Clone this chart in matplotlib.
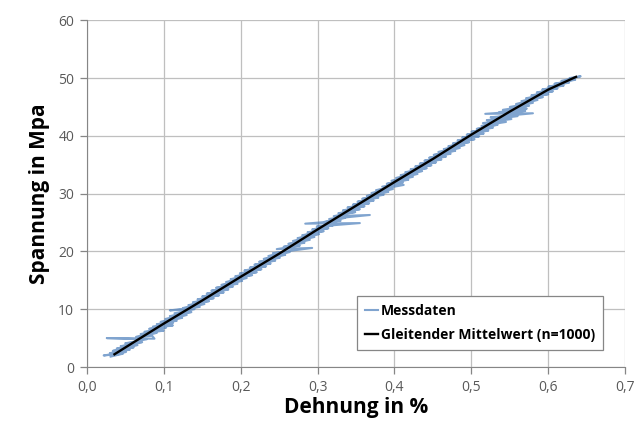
import matplotlib
matplotlib.use("Agg")
import matplotlib.pyplot as plt
from matplotlib.ticker import FixedLocator, FixedFormatter

msg_x = [0.031, 0.047, 0.022, 0.051, 0.030, 0.056, 0.034, 0.061, 0.039, 0.066,
         0.044, 0.072, 0.050, 0.078, 0.026, 0.088, 0.085, 0.064, 0.091, 0.070,
         0.100, 0.075, 0.103, 0.081, 0.112, 0.086, 0.112, 0.091, 0.117, 0.096,
         0.124, 0.102, 0.130, 0.108, 0.136, 0.114, 0.140, 0.108, 0.147, 0.125,
         0.153, 0.132, 0.159, 0.138, 0.165, 0.144, 0.172, 0.150, 0.178, 0.156,
         0.184, 0.162, 0.190, 0.168, 0.196, 0.175, 0.202, 0.181, 0.208, 0.187,
         0.215, 0.193, 0.221, 0.199, 0.227, 0.205, 0.233, 0.212, 0.239, 0.218,
         0.245, 0.224, 0.251, 0.230, 0.258, 0.236, 0.264, 0.242, 0.293, 0.247,
         0.277, 0.256, 0.283, 0.262, 0.290, 0.268, 0.296, 0.274, 0.302, 0.280,
         0.308, 0.287, 0.314, 0.293, 0.320, 0.299, 0.355, 0.284, 0.330, 0.309,
         0.336, 0.315, 0.368, 0.321, 0.349, 0.327, 0.355, 0.333, 0.361, 0.339,
         0.367, 0.346, 0.373, 0.352, 0.379, 0.358, 0.386, 0.364, 0.392, 0.370,
         0.398, 0.376, 0.412, 0.384, 0.411, 0.390, 0.418, 0.396, 0.424, 0.402,
         0.430, 0.408, 0.436, 0.414, 0.442, 0.421, 0.448, 0.427, 0.454, 0.433,
         0.461, 0.439, 0.467, 0.445, 0.473, 0.451, 0.479, 0.457, 0.485, 0.464,
         0.491, 0.470, 0.497, 0.476, 0.504, 0.482, 0.510, 0.488, 0.516, 0.494,
         0.522, 0.500, 0.528, 0.507, 0.534, 0.513, 0.545, 0.515, 0.552, 0.520,
         0.560, 0.525, 0.580, 0.518, 0.570, 0.536, 0.572, 0.541, 0.575, 0.550,
         0.580, 0.558, 0.586, 0.565, 0.593, 0.571, 0.600, 0.578, 0.606, 0.585,
         0.612, 0.592, 0.620, 0.600, 0.627, 0.608, 0.635, 0.617, 0.642, 0.628]
msg_y = [1.8, 2.3, 2.0, 2.6, 2.4, 3.0, 2.8, 3.4, 3.2, 3.8,
         3.6, 4.3, 4.1, 4.8, 5.0, 4.9, 5.4, 5.2, 5.9, 5.7,
         6.3, 6.1, 6.8, 6.6, 7.2, 7.0, 7.6, 7.4, 8.0, 7.8,
         8.5, 8.3, 9.0, 8.8, 9.5, 9.3, 10.0, 9.8, 10.4, 10.2,
         10.9, 10.7, 11.4, 11.2, 11.9, 11.7, 12.4, 12.2, 12.9, 12.7,
         13.4, 13.2, 13.9, 13.7, 14.4, 14.2, 14.9, 14.7, 15.4, 15.2,
         15.9, 15.7, 16.4, 16.2, 16.9, 16.7, 17.4, 17.2, 17.9, 17.7,
         18.4, 18.2, 18.9, 18.7, 19.4, 19.2, 19.9, 19.7, 20.6, 20.4,
         21.0, 20.8, 21.5, 21.3, 22.0, 21.8, 22.5, 22.3, 23.0, 22.8,
         23.5, 23.3, 24.0, 23.8, 24.5, 24.3, 24.9, 24.8, 25.3, 25.1,
         25.8, 25.6, 26.3, 26.1, 26.8, 26.6, 27.3, 27.1, 27.8, 27.6,
         28.3, 28.1, 28.8, 28.6, 29.3, 29.1, 29.8, 29.6, 30.3, 30.1,
         30.8, 30.6, 31.5, 31.2, 31.9, 31.7, 32.4, 32.2, 32.9, 32.7,
         33.4, 33.2, 33.9, 33.7, 34.4, 34.2, 34.9, 34.7, 35.4, 35.2,
         35.9, 35.7, 36.4, 36.2, 36.9, 36.7, 37.4, 37.2, 37.9, 37.7,
         38.4, 38.2, 38.9, 38.7, 39.4, 39.2, 39.9, 39.7, 40.4, 40.2,
         40.9, 40.7, 41.4, 41.2, 41.9, 41.7, 42.4, 42.2, 42.9, 42.7,
         43.4, 43.2, 43.9, 43.8, 44.3, 44.1, 44.7, 44.5, 45.2, 45.0,
         45.7, 45.5, 46.2, 46.0, 46.7, 46.5, 47.2, 47.0, 47.7, 47.5,
         48.2, 48.0, 48.7, 48.5, 49.2, 49.0, 49.7, 49.5, 50.3, 50.0]

# Gleitender Mittelwert (n=1000)
mw_x = [0.036, 0.06, 0.1, 0.15, 0.2, 0.25, 0.3, 0.35, 0.4, 0.45, 0.5, 0.55, 0.6, 0.636]
mw_y = [2.2, 4.2, 7.5, 11.5, 15.6, 19.6, 23.8, 27.9, 32.0, 36.0, 40.2, 44.2, 48.0, 50.2]

x_ticks = [0.0, 0.1, 0.2, 0.3, 0.4, 0.5, 0.6, 0.7]
x_labels = ["0,0", "0,1", "0,2", "0,3", "0,4", "0,5", "0,6", "0,7"]
y_ticks = [0, 10, 20, 30, 40, 50, 60]

plt.rcParams['font.family'] = ['Open Sans', 'DejaVu Sans']

fig = plt.figure(figsize=(6.38, 4.30), dpi=100)
ax = fig.add_axes([0.136, 0.1465, 0.844, 0.8065])

ax.plot(msg_x, msg_y, color="#4a7ebb", lw=1.5, alpha=0.7, label="Messdaten")
ax.plot(mw_x, mw_y, color="black", lw=1.7, label="Gleitender Mittelwert (n=1000)")

ax.set_xlim(0, 0.7)
ax.set_ylim(0, 60)
ax.xaxis.set_major_locator(FixedLocator(x_ticks))
ax.xaxis.set_major_formatter(FixedFormatter(x_labels))
ax.yaxis.set_major_locator(FixedLocator(y_ticks))

ax.grid(True, color="#bfbfbf", lw=0.9)
ax.set_axisbelow(True)
for s in ["top", "right"]:
    ax.spines[s].set_visible(False)
for s in ["left", "bottom"]:
    ax.spines[s].set_color("#868686")
ax.tick_params(colors="#868686", labelcolor="#595959", labelsize=10, length=5, width=0.9, pad=4)

ax.set_xlabel("Dehnung in %", fontsize=15, fontweight="bold", labelpad=2)
ax.set_ylabel("Spannung in Mpa", fontsize=15, fontweight="bold", labelpad=6)

leg = ax.legend(loc="lower right", bbox_to_anchor=(0.972, 0.029),
                prop={'weight': 'bold', 'size': 10}, fancybox=False, framealpha=1,
                edgecolor="#868686", handlelength=0.9, handletextpad=0.2, labelspacing=0.7,
                borderpad=0.6)
leg.get_frame().set_linewidth(0.9)

fig.savefig("out.png", dpi=100)
